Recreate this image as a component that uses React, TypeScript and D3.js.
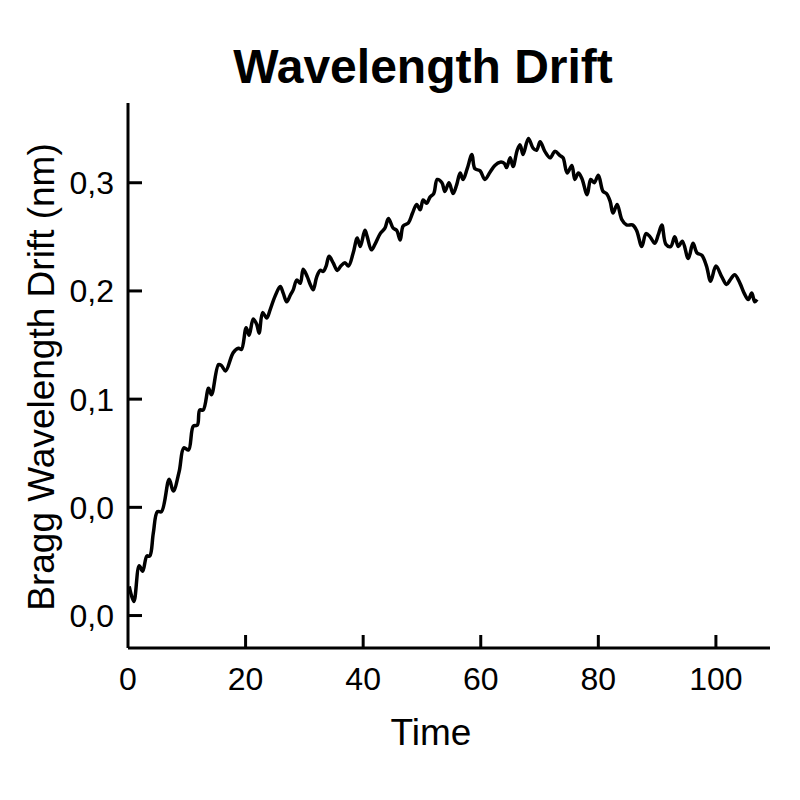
import { scaleLinear, line as d3line, curveCatmullRom } from "d3";

// time (x) and drift in nm (y)
const TIMES = [
  0.2, 1.0, 1.9, 2.5, 3.2, 3.7, 4.3, 5.0, 5.7, 7.0, 7.7, 8.7, 9.5, 10.3, 11.1, 11.8, 12.2, 12.8,
  13.7, 14.2, 15.4, 15.9, 16.6, 17.9, 18.8, 19.3, 20.1, 20.6, 21.3, 21.9, 22.3, 22.9, 23.6, 24.2,
  25.0, 25.9, 26.4, 27.0, 27.6, 28.1, 28.7, 29.3, 29.8, 30.5, 31.0, 31.5, 32.1, 32.7, 33.2, 33.7,
  34.2, 34.9, 35.6, 36.2, 36.9, 37.5, 38.3, 39.0, 39.5, 40.3, 40.7, 41.4, 42.0, 42.9, 43.7, 44.3,
  45.1, 45.7, 46.3, 46.8, 47.7, 48.4, 49.1, 49.7, 50.2, 50.8, 51.4, 52.0, 52.6, 53.4, 53.9, 54.6,
  55.3, 55.9, 56.5, 57.0, 57.7, 58.5, 59.0, 59.9, 60.7, 61.6, 62.4, 63.3, 64.0, 64.4, 65.0, 65.5,
  66.2, 66.7, 67.2, 68.1, 68.9, 69.5, 70.1, 70.9, 71.8, 72.6, 73.5, 74.0, 74.7, 75.5, 76.0, 76.6,
  77.2, 78.1, 78.7, 79.3, 80.0, 80.8, 81.4, 82.0, 82.5, 83.2, 84.0, 84.8, 85.8, 86.5, 87.4, 88.1,
  88.8, 89.6, 90.2, 90.8, 91.5, 92.3, 93.0, 93.6, 94.3, 95.3, 96.1, 96.8, 97.6, 98.4, 99.1, 100.0,
  101.0, 101.8, 102.4, 103.2, 104.1, 104.8, 105.5, 106.1, 106.6, 107.0,
];
const DRIFT = [
  -0.073, -0.087, -0.054, -0.059, -0.045, -0.045, -0.024, -0.004, -0.004, 0.026, 0.015, 0.033,
  0.055, 0.053, 0.075, 0.076, 0.090, 0.090, 0.110, 0.104, 0.132, 0.131, 0.126, 0.143, 0.147,
  0.146, 0.166, 0.159, 0.174, 0.169, 0.161, 0.180, 0.175, 0.183, 0.195, 0.204, 0.198, 0.190,
  0.196, 0.201, 0.210, 0.207, 0.220, 0.213, 0.206, 0.201, 0.213, 0.219, 0.218, 0.223, 0.232,
  0.226, 0.219, 0.223, 0.226, 0.223, 0.235, 0.249, 0.241, 0.256, 0.250, 0.238, 0.243, 0.253,
  0.258, 0.267, 0.258, 0.256, 0.247, 0.260, 0.263, 0.272, 0.280, 0.275, 0.284, 0.281, 0.287,
  0.290, 0.303, 0.300, 0.292, 0.300, 0.290, 0.298, 0.309, 0.303, 0.313, 0.326, 0.313, 0.311,
  0.303, 0.310, 0.316, 0.319, 0.318, 0.314, 0.323, 0.315, 0.330, 0.335, 0.326, 0.341, 0.332,
  0.330, 0.338, 0.329, 0.323, 0.329, 0.325, 0.323, 0.309, 0.316, 0.303, 0.309, 0.304, 0.289,
  0.303, 0.300, 0.307, 0.292, 0.290, 0.283, 0.272, 0.280, 0.266, 0.261, 0.261, 0.256, 0.241,
  0.253, 0.250, 0.244, 0.252, 0.261, 0.243, 0.241, 0.250, 0.241, 0.246, 0.230, 0.244, 0.235,
  0.233, 0.223, 0.209, 0.223, 0.213, 0.206, 0.210, 0.215, 0.207, 0.198, 0.192, 0.198, 0.190,
  0.192,
];
const X_TICKS = [0, 20, 40, 60, 80, 100];
const Y_TICKS = [-0.1, 0, 0.1, 0.2, 0.3];
const Y_TICK_LABELS = ["0,0", "0,0", "0,1", "0,2", "0,3"];

const W = 800, H = 800;
const M = { top: 103, right: 30, bottom: 152, left: 128 };
const FONT = "'Liberation Sans', Arial, Helvetica, sans-serif";

export default function App() {
  const iW = W - M.left - M.right, iH = H - M.top - M.bottom;
  const x = scaleLinear().domain([0, 109.2]).range([0, iW]);
  const y = scaleLinear().domain([-0.13, 0.3737]).range([iH, 0]);
  const pts = TIMES.map((t, i) => [t, DRIFT[i]] as [number, number]);
  const path = d3line<[number, number]>()
    .x(d => x(d[0]))
    .y(d => y(d[1]))
    .curve(curveCatmullRom.alpha(0.5))(pts) ?? "";
  return (
    <svg width={W} height={H} style={{ position: "absolute", left: 0, top: 0, background: "#fff" }}
      fontFamily={FONT}>
      <text x={423} y={83} textAnchor="middle" fontSize={48} fontWeight="bold">Wavelength Drift</text>
      <g transform={`translate(${M.left},${M.top})`}>
        <line x1={0} x2={0} y1={0} y2={iH} stroke="#000" strokeWidth={3} />
        <line x1={0} x2={iW} y1={iH} y2={iH} stroke="#000" strokeWidth={3} />
        {Y_TICKS.map((t, i) => (
          <g key={t} transform={`translate(0,${y(t)})`}>
            <line x1={0} x2={14} stroke="#000" strokeWidth={3} />
            <text x={-14} dy="0.36em" textAnchor="end" fontSize={32}>{Y_TICK_LABELS[i]}</text>
          </g>
        ))}
        {X_TICKS.map(t => (
          <g key={t} transform={`translate(${x(t)},${iH})`}>
            {t !== 0 && <line y1={0} y2={-13} stroke="#000" strokeWidth={3} />}
            <text y={42} textAnchor="middle" fontSize={32}>{t}</text>
          </g>
        ))}
        <path d={path} fill="none" stroke="#000" strokeWidth={3.5} strokeLinejoin="round" />
      </g>
      <text x={431} y={745} textAnchor="middle" fontSize={37}>Time</text>
      <text transform="translate(54,377) rotate(-90)" textAnchor="middle" fontSize={37}>
        Bragg Wavelength Drift (nm)
      </text>
    </svg>
  );
}
